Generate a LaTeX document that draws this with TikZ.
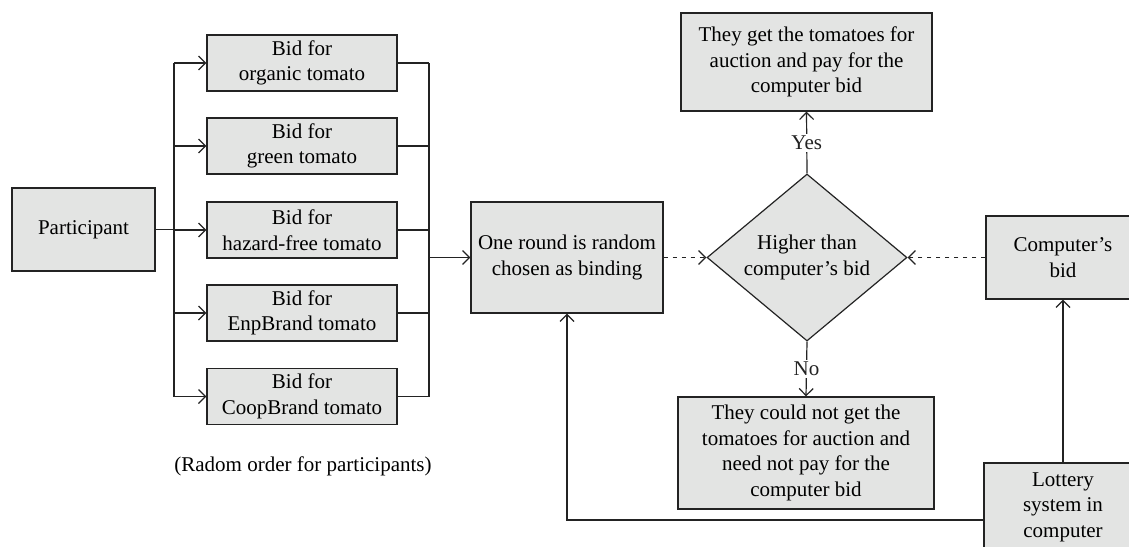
\documentclass[tikz,border=0pt]{standalone}
\usepackage{fontspec}
\setmainfont{Liberation Serif}
\usetikzlibrary{positioning, arrows.meta, shapes.geometric, calc}
\definecolor{boxgray}{RGB}{227,228,227}
\definecolor{linegray}{RGB}{35,35,35}

\begin{document}
\begin{tikzpicture}[x=1pt, y=-1pt,
    box/.style={rectangle, draw=linegray, line width=1.3pt, fill=boxgray,
                inner sep=0pt, align=center, font=\fontsize{21}{25.5}\selectfont},
    bidbox/.style={box, minimum width=190pt, minimum height=56pt},
    decision/.style={diamond, draw=linegray, line width=1.2pt, fill=boxgray, aspect=1.2,
                inner sep=0pt, align=center, minimum width=200pt, minimum height=167pt,
                font=\fontsize{21}{25.5}\selectfont},
    arrow/.style={-{Straight Barb[length=7pt, width=14pt]}, line width=1.2pt, linegray},
    link/.style={line width=1.2pt, linegray},
    dashlink/.style={line width=1.2pt, linegray, dash pattern=on 4.5pt off 4.5pt},
    answer/.style={fill=white, inner sep=2pt, font=\fontsize{21}{24}\selectfont}
]
    \useasboundingbox (0,0) rectangle (1129,546);

    % Participant and the five bids
    \node[box, minimum width=143pt, minimum height=83pt] (part) at (83.5,229.5) {Participant};
    \node[bidbox] (bid1) at (302,63) {Bid for\\organic tomato};
    \node[bidbox] (bid2) at (302,146) {Bid for\\green tomato};
    \node[bidbox] (bid3) at (302,230) {Bid for\\hazard-free tomato};
    \node[bidbox] (bid4) at (302,313) {Bid for\\EnpBrand tomato};
    \node[bidbox] (bid5) at (302,396.5) {Bid for\\CoopBrand tomato};
    \node[font=\fontsize{21}{25}\selectfont] (note) at (303,466) {(Radom order for participants)};

    % Binding round and decision
    \node[box, minimum width=192pt, minimum height=111pt] (round) at (567,257.5) {One round is random\\chosen as binding};
    \node[decision] (dec) at (807,257.5) {Higher than\\computer’s bid};
    \node[box, minimum width=251pt, minimum height=98pt] (yes) at (806.5,62) {They get the tomatoes for\\auction and pay for the\\computer bid};
    \node[box, minimum width=256pt, minimum height=112pt] (no) at (806,453) {They could not get the\\tomatoes for auction and\\need not pay for the\\computer bid};

    % Computer side
    \node[box, minimum width=154pt, minimum height=83pt] (comp) at (1063,257.5) {Computer’s\\bid};
    \node[box, minimum width=158pt, minimum height=88pt] (lottery) at (1063,507) {Lottery\\system in\\computer};

    % Buses
    \coordinate (lbus) at (174,0);
    \coordinate (rbus) at (429,0);
    \draw[link] (part.east) -- (part.east -| lbus);
    \draw[link] (bid1.west -| lbus) -- (bid5.west -| lbus);
    \draw[arrow] (bid1.west -| lbus) -- (bid1.west);
    \draw[arrow] (bid2.west -| lbus) -- (bid2.west);
    \draw[arrow] (bid3.west -| lbus) -- (bid3.west);
    \draw[arrow] (bid4.west -| lbus) -- (bid4.west);
    \draw[arrow] (bid5.west -| lbus) -- (bid5.west);

    \draw[link] (bid1.east) -- (bid1.east -| rbus);
    \draw[link] (bid2.east) -- (bid2.east -| rbus);
    \draw[link] (bid3.east) -- (bid3.east -| rbus);
    \draw[link] (bid4.east) -- (bid4.east -| rbus);
    \draw[link] (bid5.east) -- (bid5.east -| rbus);
    \draw[link] (bid1.east -| rbus) -- (bid5.east -| rbus);
    \draw[arrow] (round.west -| rbus) -- (round.west);

    % Comparison
    \draw[dashlink, -{Straight Barb[length=7pt, width=14pt]}] (round.east) -- (dec.west);
    \draw[dashlink, -{Straight Barb[length=7pt, width=14pt]}] (comp.west) -- (dec.east);
    \draw[arrow] (dec.north) -- node[answer] {Yes} (yes.south);
    \draw[arrow] (dec.south) -- node[answer] {No} (no.north);

    % Lottery
    \draw[arrow] (lottery.north) -- (comp.south);
    \draw[arrow] ([yshift=-13pt]lottery.west) -| (round.south);

\end{tikzpicture}
\end{document}
